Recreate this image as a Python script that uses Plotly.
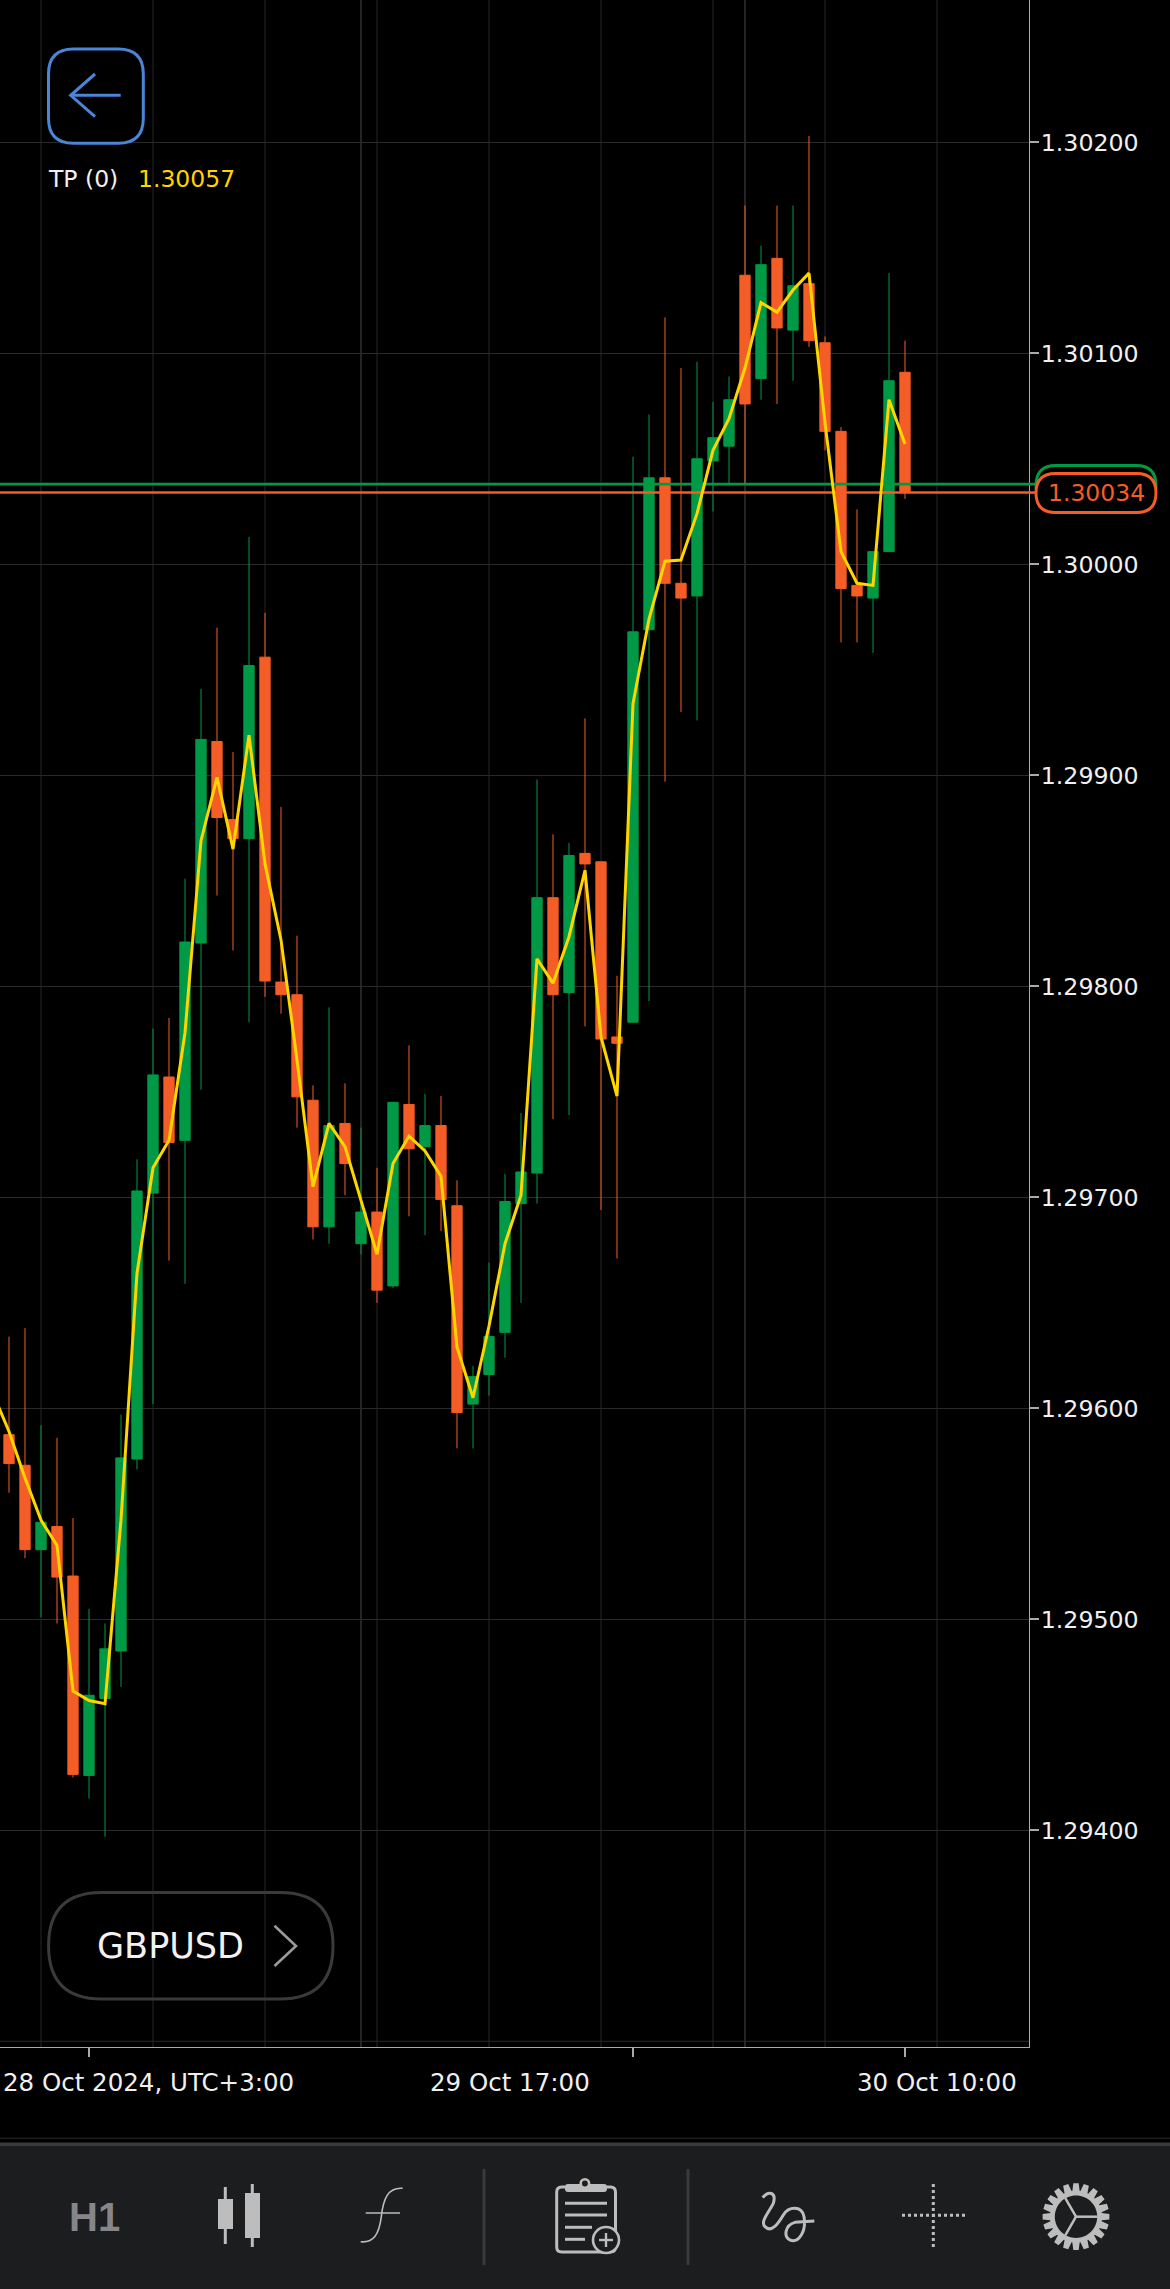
import numpy as np
import plotly.graph_objects as go

W, H = 1170, 2289

# ---- data ----
candle_index = list(range(57))
open_price = [1.295875,1.29573,1.29533,1.29544,1.295205,1.29426,1.294625,1.29485,1.29576,1.29702,1.29757,1.29727,1.298205,1.29916,1.29879,1.2987,1.29956,1.29802,1.29796,1.29746,1.29686,1.29735,1.29678,1.29693,1.29658,1.29744,1.29724,1.29734,1.29696,1.29602,1.29616,1.29636,1.29697,1.297115,1.29842,1.29797,1.29863,1.29859,1.29776,1.29783,1.29969,1.30041,1.29991,1.29985,1.30049,1.30056,1.30137,1.30088,1.30145,1.30111,1.30133,1.30105,1.30063,1.2999,1.29984,1.30006,1.30091]
high_price = [1.29634,1.29638,1.29592,1.29586,1.29548,1.29505,1.29498,1.29597,1.29718,1.2978,1.29785,1.29851,1.29941,1.2997,1.29911,1.30013,1.29977,1.29885,1.29824,1.29753,1.2979,1.29754,1.29733,1.29714,1.29745,1.29772,1.29749,1.29748,1.29708,1.2962,1.29669,1.29711,1.2974,1.29898,1.29872,1.29868,1.29927,1.29859,1.29805,1.30051,1.30071,1.30117,1.30093,1.30096,1.30077,1.30089,1.3017,1.30151,1.3017,1.3017,1.30203,1.30108,1.30065,1.30026,1.30006,1.30138,1.30106]
low_price = [1.2956,1.29529,1.29501,1.29498,1.29425,1.29415,1.29397,1.29468,1.29571,1.29602,1.2967,1.29659,1.29751,1.29843,1.29817,1.29783,1.29795,1.29787,1.29733,1.2968,1.29678,1.29701,1.29673,1.2965,1.29657,1.29691,1.29682,1.29684,1.29581,1.29581,1.29606,1.29624,1.2965,1.29697,1.29737,1.29739,1.29781,1.29694,1.29671,1.29783,1.29793,1.29897,1.2993,1.29926,1.30025,1.30038,1.30038,1.30078,1.30076,1.30087,1.30103,1.30054,1.29963,1.29963,1.29958,1.30006,1.30031]
close_price = [1.295738,1.29533,1.29546,1.2952,1.294265,1.29464,1.29486,1.295765,1.29703,1.29758,1.29726,1.29821,1.29917,1.2988,1.2987,1.29952,1.298025,1.29796,1.297476,1.29686,1.29734,1.29716,1.29693,1.29656,1.29745,1.29723,1.29734,1.29699,1.29598,1.29615,1.29634,1.29698,1.29712,1.29842,1.29796,1.29862,1.29858,1.29775,1.29773,1.29968,1.30041,1.29991,1.29984,1.3005,1.3006,1.30078,1.30076,1.30142,1.30112,1.30132,1.30106,1.30063,1.299885,1.29985,1.30006,1.30087,1.30034]

tp_index = list(range(-1, 57))
tp_value = [1.29607,1.29589,1.29567,1.29547,1.29535,1.29466,1.294615,1.2946,1.29547,1.29664,1.29714,1.29727,1.29778,1.29869,1.29899,1.29865,1.29919,1.29858,1.29822,1.29765,1.29705,1.29735,1.29724,1.29699,1.29673,1.29716,1.29729,1.29722,1.2971,1.29629,1.29605,1.29639,1.29678,1.29701,1.29813,1.298015,1.298235,1.29855,1.29776,1.29748,1.29934,1.29974,1.300015,1.30002,1.30024,1.30054,1.30069,1.30093,1.30124,1.301195,1.3013,1.30138,1.30067,1.30006,1.29991,1.2999,1.30078,1.30057]

bid_price = 1.30034
ask_price = 1.30038
price_ticks = [1.294,1.295,1.296,1.297,1.298,1.299,1.300,1.301,1.302]
unlabelled_grid = [1.293]
grid_index = [2,9,16,23,30,37,44,51,58]
separator_index = [22,46]
time_tick_index = [5,39,56]
time_labels = ["28 Oct 2024, UTC+3:00","29 Oct 17:00","30 Oct 10:00"]
time_label_pos = [8.69,31.31,58.0]

ORANGE = "#F55D26"
GREEN = "#009A47"
YELLOW = "#FFD500"
ICON = "#BDBDBD"
BAR = "#1C1D1F"
FONT = "DejaVu Sans"

# pixel helpers
def X(p): return p / W
def Y(p): return 1 - p / H

def pth(s, ox=0.0, oy=0.0, sc=1.0):
    """Convert a path written in screen pixels to paper coordinates."""
    out = []
    tok = s.replace(",", " ").split()
    is_x = True
    for t in tok:
        if t.isalpha():
            out.append(t)
            is_x = True
        else:
            v = float(t)
            if is_x:
                out.append(f"{X(ox + v * sc):.6f}")
            else:
                out.append(f"{Y(oy + v * sc):.6f}")
            is_x = not is_x
    return " ".join(out)

shapes = []
def path(s, color=None, width=2.0, fill=None, ox=0.0, oy=0.0, sc=1.0, layer="above"):
    shapes.append(dict(type="path", xref="paper", yref="paper", path=pth(s, ox, oy, sc),
                       line=dict(color=color or "rgba(0,0,0,0)", width=width if color else 0),
                       fillcolor=fill or "rgba(0,0,0,0)", layer=layer))
def line(x0, y0, x1, y1, color, width=2.0, dash=None, layer="above"):
    shapes.append(dict(type="line", xref="paper", yref="paper", x0=X(x0), x1=X(x1), y0=Y(y0), y1=Y(y1),
                       line=dict(color=color, width=width, dash=dash), layer=layer))
def rect(x0, y0, x1, y1, fill, layer="above"):
    shapes.append(dict(type="rect", xref="paper", yref="paper", x0=X(x0), x1=X(x1), y0=Y(y0), y1=Y(y1),
                       fillcolor=fill, line=dict(width=0), layer=layer))
def rrect(x0, y0, x1, y1, r):
    return (f"M {x0+r} {y0} L {x1-r} {y0} Q {x1} {y0} {x1} {y0+r} L {x1} {y1-r} Q {x1} {y1} {x1-r} {y1} "
            f"L {x0+r} {y1} Q {x0} {y1} {x0} {y1-r} L {x0} {y0+r} Q {x0} {y0} {x0+r} {y0} Z")
def circle(cx, cy, r, color=None, width=2.0, fill=None):
    k = 0.5523 * r
    s = (f"M {cx-r} {cy} C {cx-r} {cy-k} {cx-k} {cy-r} {cx} {cy-r} C {cx+k} {cy-r} {cx+r} {cy-k} {cx+r} {cy} "
         f"C {cx+r} {cy+k} {cx+k} {cy+r} {cx} {cy+r} C {cx-k} {cy+r} {cx-r} {cy+k} {cx-r} {cy} Z")
    path(s, color, width, fill)

# vertical grid (data coordinates)
for gi in grid_index:
    shapes.append(dict(type="line", xref="x", yref="y domain", x0=gi, x1=gi, y0=0, y1=1,
                       line=dict(color="#262626", width=1), layer="below"))
for gi in separator_index:
    shapes.append(dict(type="line", xref="x", yref="y domain", x0=gi, x1=gi, y0=0, y1=1,
                       line=dict(color="#4A4A4A", width=1), layer="below"))
for gv in unlabelled_grid:
    shapes.append(dict(type="line", xref="x domain", yref="y", x0=0, x1=1, y0=gv, y1=gv,
                       line=dict(color="#2A2A2A", width=1), layer="below"))

fig = go.Figure()
fig.add_trace(go.Candlestick(
    x=candle_index, open=open_price, high=high_price, low=low_price, close=close_price,
    increasing=dict(line=dict(color=GREEN, width=1), fillcolor=GREEN),
    decreasing=dict(line=dict(color=ORANGE, width=1), fillcolor=ORANGE),
    whiskerwidth=0, hoverinfo="skip", showlegend=False))
for val, col in ((ask_price, GREEN), (bid_price, ORANGE)):
    fig.add_trace(go.Scatter(x=[-2, 70], y=[val, val], mode="lines",
                             line=dict(color=col, width=2.6), hoverinfo="skip", showlegend=False))
fig.add_trace(go.Scatter(x=tp_index, y=tp_value, mode="lines",
                         line=dict(color=YELLOW, width=3), hoverinfo="skip", showlegend=False))

# --- right side price pills
def py(v): return 142.3 + (1.302 - v) * 211000
line(1029, py(ask_price), 1040, py(ask_price), GREEN, 2.6)
line(1029, py(bid_price), 1040, py(bid_price), ORANGE, 2.6)
path(rrect(1036, 465.5, 1156, 505, 20), GREEN, 3, "#000000")
path(rrect(1036, 473.5, 1156, 512.5, 19.5), ORANGE, 3, "#000000")

# --- back button
path(rrect(48.5, 49, 143.3, 143.3, 25), "#4A86D8", 3)
line(70.7, 95.3, 120.7, 95.3, "#4A86D8", 3)
path("M 95 74 L 70.7 95.3 L 95 116.7", "#4A86D8", 3)

# --- symbol button
path(rrect(48.6, 1892.5, 333, 1999, 53), "#3A3A3A", 3)
path("M 274.5 1925.7 L 296 1946 L 274.5 1966", "#9A9A9A", 2.6)

# --- bottom bar
rect(0, 2146, W, H, BAR)
rect(0, 2142.5, W, 2146, "#3A3A3C")
rect(0, 2137.5, W, 2139, "#1C1C1C")
line(484, 2169, 484, 2265, "#3A3A3C", 3)
line(688, 2169, 688, 2265, "#3A3A3C", 3)

# candles icon
line(225.3, 2187, 225.3, 2244, ICON, 3)
rect(218, 2199, 233, 2229, ICON)
line(252.3, 2184, 252.3, 2247, ICON, 3)
rect(245, 2193, 260, 2238, ICON)

# function icon
path("M 360.7 2241.7 C 373.3 2243 379 2235 381.3 2216.7 C 383.3 2198.3 388.3 2187 402.7 2188.3", ICON, 1.6)
line(365.7, 2213, 400, 2213, ICON, 1.6)

# clipboard icon
path(rrect(556.7, 2187, 615.5, 2252, 5), ICON, 3)
path(rrect(565, 2184, 607, 2192, 3), None, 0, ICON)
circle(584.9, 2183.5, 4.2, ICON, 2.6, BAR)
for yy, xe in ((2203.3, 607), (2215, 607), (2227.3, 592), (2239.3, 585)):
    line(565, yy, xe, yy, ICON, 3)
circle(606, 2240, 13, ICON, 2.6, BAR)
line(606, 2233, 606, 2247, ICON, 2.4)
line(599, 2240, 613, 2240, ICON, 2.4)

# squiggle icon
path("M 98 113 C 115 92 140 95 130 130 C 115 160 90 185 105 200 C 125 220 145 190 160 165 "
     "C 175 140 215 135 222 170 C 230 215 205 250 180 240 C 160 230 165 195 195 187 L 253 183",
     ICON, 3, None, ox=730, oy=2160, sc=1/3)

# crosshair icon
line(933.3, 2184, 933.3, 2247, ICON, 3, "3px,3px")
line(902, 2215.3, 965, 2215.3, ICON, 3, "3px,3px")

# gear icon
gx, gy = 1076.0, 2216.7
teeth = 20
pts = []
for t in range(teeth):
    a = 2 * np.pi * t / teeth + np.pi / 2
    step = 2 * np.pi / teeth
    for da, rr in ((-0.30, 26.0), (-0.17, 33.5), (0.17, 33.5), (0.30, 26.0)):
        ang = a + da * step / 0.6 * 0.9
        pts.append((gx + rr * np.cos(ang), gy + rr * np.sin(ang)))
path("M " + " L ".join(f"{a:.2f} {b:.2f}" for a, b in pts) + " Z", None, 0, ICON)
circle(gx, gy, 21.2, None, 0, BAR)
for deg in (0, 120, 240):
    line(gx, gy, gx + 21.5 * np.cos(np.radians(deg)), gy - 21.5 * np.sin(np.radians(deg)), ICON, 2.5)

# --- texts
ann = []
def text(x, y, s, size, color, anchor="center", bold=False, family=FONT):
    ann.append(dict(xref="paper", yref="paper", x=X(x), y=Y(y), text=f"<b>{s}</b>" if bold else s,
                    showarrow=False, xanchor=anchor, yanchor="middle", borderpad=0,
                    font=dict(family=family, size=size, color=color)))
text(47, 179.5, "TP (0)", 23.5, "#F0F0F0", "left")
text(136.5, 179.5, "1.30057", 23.5, YELLOW, "left")
text(170, 1945.5, "GBPUSD", 35, "#F2F2F2")
text(1096, 493, "1.30034", 23.5, ORANGE)
text(94, 2217, "H1", 40, "#85858A", bold=True, family="Liberation Sans")
for pos, lab in zip(time_label_pos, time_labels):
    ann.append(dict(xref="x", yref="paper", x=pos, y=Y(2082), text=lab, showarrow=False,
                    xanchor="center", yanchor="middle", borderpad=0,
                    font=dict(family=FONT, size=24.5, color="#F0F0F0")))

fig.update_layout(
    width=W, height=H, autosize=False,
    margin=dict(l=0, r=0, t=0, b=0, pad=0),
    paper_bgcolor="#000000", plot_bgcolor="#000000",
    showlegend=False, shapes=shapes, annotations=ann,
    font=dict(family=FONT, color="#F0F0F0"),
    boxgap=0.08,
    xaxis=dict(domain=[0, 1029 / W], range=[-9 / 16, (1029 - 9) / 16], showgrid=False, zeroline=False,
               rangeslider=dict(visible=False), tickmode="array", tickvals=time_tick_index, ticktext=["", "", ""],
               ticks="outside", ticklen=9, tickwidth=2, tickcolor="#AAAAAA",
               showline=True, linecolor="#AAAAAA", linewidth=1, fixedrange=True),
    yaxis=dict(domain=[(H - 2047.3) / H, 1], range=[1.302 - (2047.3 - 142.3) / 211000, 1.302 + 142.3 / 211000],
               side="right", tickmode="array", tickvals=price_ticks, tickformat=".5f",
               ticks="outside", ticklen=9, tickwidth=2, tickcolor="#AAAAAA",
               showgrid=True, gridcolor="#2A2A2A", gridwidth=1, zeroline=False,
               showline=True, linecolor="#AAAAAA", linewidth=1, ticklabelstandoff=-3,
               tickfont=dict(family=FONT, size=23.7, color="#F0F0F0"), fixedrange=True),
)

fig.write_html("out.html", config={"displayModeBar": False},
               post_script="document.body.style.margin='0';document.body.style.background='#000';document.documentElement.style.overflow='hidden';")
